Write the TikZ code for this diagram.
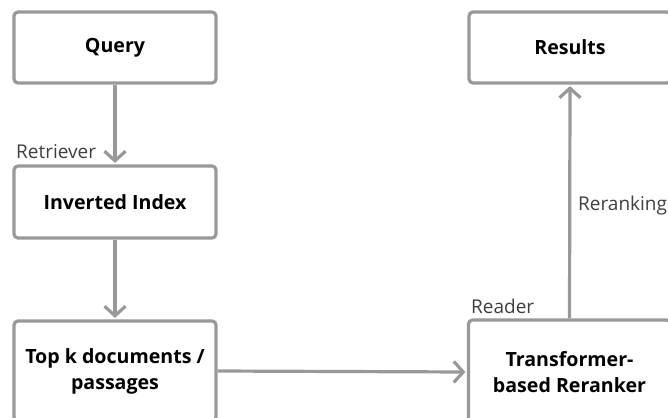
\documentclass[tikz,border=0pt]{standalone}
\usepackage{fontspec}
\setmainfont{Open Sans}
\usetikzlibrary{arrows.meta}
\definecolor{edge}{HTML}{999999}
\definecolor{labelgray}{HTML}{404040}
\begin{document}
\begin{tikzpicture}[x=1pt,y=-1pt,
  box/.style={draw=edge, line width=3.2pt, rounded corners=4pt, fill=white,
    font=\bfseries\fontsize{19.6}{26}\selectfont, align=center, inner sep=0pt},
  flow/.style={draw=edge, line width=3.2pt, shorten >=1.5pt,
    -{Straight Barb[length=9.5pt,width=21pt]}},
  lbl/.style={font=\fontsize{19}{22}\selectfont, text=labelgray,
    anchor=base west, inner sep=0pt}]
\useasboundingbox (0,0) rectangle (668,417);
\clip (0,0) rectangle (668,417);

% pipeline boxes
\node[box, minimum width=202pt, minimum height=71pt] (query) at (115,47.5) {Query};
\node[box, minimum width=202pt, minimum height=72pt] (index) at (115,202) {Inverted Index};
\node[box, minimum width=202pt, minimum height=100pt] (topk) at (115,371) {Top k documents /\\passages};
\node[box, minimum width=202pt, minimum height=104pt] (reranker) at (569.5,372) {Transformer-\\based Reranker};
\node[box, minimum width=202pt, minimum height=71pt] (results) at (570,47.5) {Results};

% connectors
\draw[flow] (query.south) -- (index.north);
\draw[flow] (index.south) -- (topk.north);
\draw[flow] (topk.east) -- (reranker.west);
\draw[flow] (reranker.north) -- (results.south);

% stage labels
\node[lbl] (retriever) at (16,158) {Retriever};
\node[lbl] (reranking) at (578,210) {Reranking};
\node[lbl] (reader) at (471,313) {Reader};
\end{tikzpicture}
\end{document}
